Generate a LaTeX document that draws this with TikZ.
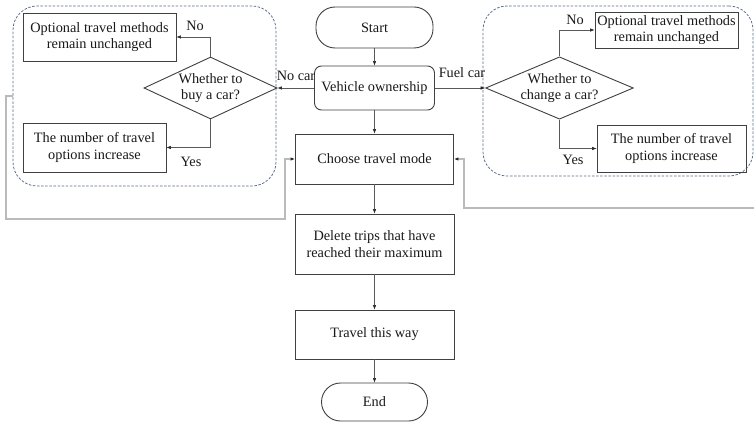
\documentclass[tikz,border=0pt]{standalone}
\usepackage{fontspec}
\setmainfont{Liberation Serif}
\usetikzlibrary{shapes.geometric,arrows.meta}
\definecolor{grp}{RGB}{88,106,140}
\begin{document}
\begin{tikzpicture}[x=1pt,y=-1pt,
  font=\fontsize{14.3}{16.5}\selectfont,
  box/.style={draw=black!75, line width=0.9pt, rectangle, inner sep=0pt, align=center, text=black!90},
  term/.style={box, rounded corners=19pt},
  dec/.style={draw=black!75, line width=0.9pt, diamond, inner sep=0pt, align=center, text=black!90},
  group/.style={draw=grp, line width=0.75pt, dash pattern=on 2.5pt off 1.6pt, rounded corners=24pt, inner sep=0pt},
  conn/.style={draw=black!65, line width=0.6pt, -{Latex[length=4.5pt,width=3.5pt,color=black!85]}},
  fb/.style={draw=black!27, line width=1.5pt, -{Latex[length=4.5pt,width=3.5pt,color=black!85]}},
  lbl/.style={inner sep=0pt, text=black!90}]
\useasboundingbox (0,0) rectangle (754,422);
\fill[white] (0,0) rectangle (754,422);

% groups
\node[group, minimum width=263pt, minimum height=180pt] (lg) at (144.5,96) {};
\node[group, minimum width=270pt, minimum height=170pt] (rg) at (618,91) {};

% main column
\node[term, minimum width=117pt, minimum height=41pt] (start) at (374.5,27.5) {Start};
\node[box, rounded corners=7pt, minimum width=120pt, minimum height=44pt] (veh) at (374.5,88) {Vehicle ownership};
\node[box, minimum width=158pt, minimum height=50pt] (choose) at (374.5,159) {Choose travel mode};
\node[box, minimum width=159pt, minimum height=60pt] (del) at (374.5,244) {Delete trips that have\\reached their maximum};
\node[box, minimum width=159pt, minimum height=49pt] (trav) at (374.5,334.5) {Travel this way};
\node[term, minimum width=106pt, minimum height=38pt] (end) at (374.5,402) {End};

% left group
\node[box, minimum width=153pt, minimum height=48pt] (lb1) at (99.5,37) {Optional travel methods\\remain unchanged};
\node[dec, aspect=2.145, minimum width=133pt, minimum height=62pt] (ld) at (210.5,88) {Whether to\\buy a car?};
\node[box, minimum width=143pt, minimum height=49pt] (lb2) at (94.5,147.5) {The number of travel\\options increase};

% right group
\node[box, minimum width=143pt, minimum height=36pt] (rb1) at (666.5,30) {Optional travel methods\\remain unchanged};
\node[dec, aspect=2.37, minimum width=145pt, minimum height=61pt] (rd) at (559.5,88) {Whether to\\change a car?};
\node[box, minimum width=149pt, minimum height=47pt] (rb2) at (671.5,148.5) {The number of travel\\options increase};

% connectors
\draw[conn] (start) -- (veh);
\draw[conn] (veh) -- (choose);
\draw[conn] (choose) -- (del);
\draw[conn] (del) -- (trav);
\draw[conn] (trav) -- (end);
\draw[conn] (veh.west) -- (ld.east);
\draw[conn] (veh.east) -- (rd.west);
\draw[conn] (ld.north) |- (lb1.east);
\draw[conn] (ld.south) |- (lb2.east);
\draw[conn] (rd.north) |- (rb1.west);
\draw[conn] (rd.south) |- (rb2.west);

% labels
\node[lbl] (lno) at (195,26) {No};
\node[lbl] (lyes) at (191,162) {Yes};
\node[lbl] (rno) at (575,20) {No};
\node[lbl] (ryes) at (573,160) {Yes};
\node[lbl] (nocar) at (296,76) {No car};
\node[lbl] (fuel) at (462,73) {Fuel car};

% feedback lines
\coordinate (lf1) at (6,96);
\coordinate (lf2) at (6,219);
\coordinate (lf3) at (285,219);
\draw[fb] (lg.west) -- (lf1) -- (lf2) -- (lf3) |- (choose.west);
\coordinate (rf0) at (754,208);
\coordinate (rf1) at (464,208);
\draw[fb] (rf0) -- (rf1) |- (choose.east);
\end{tikzpicture}
\end{document}
